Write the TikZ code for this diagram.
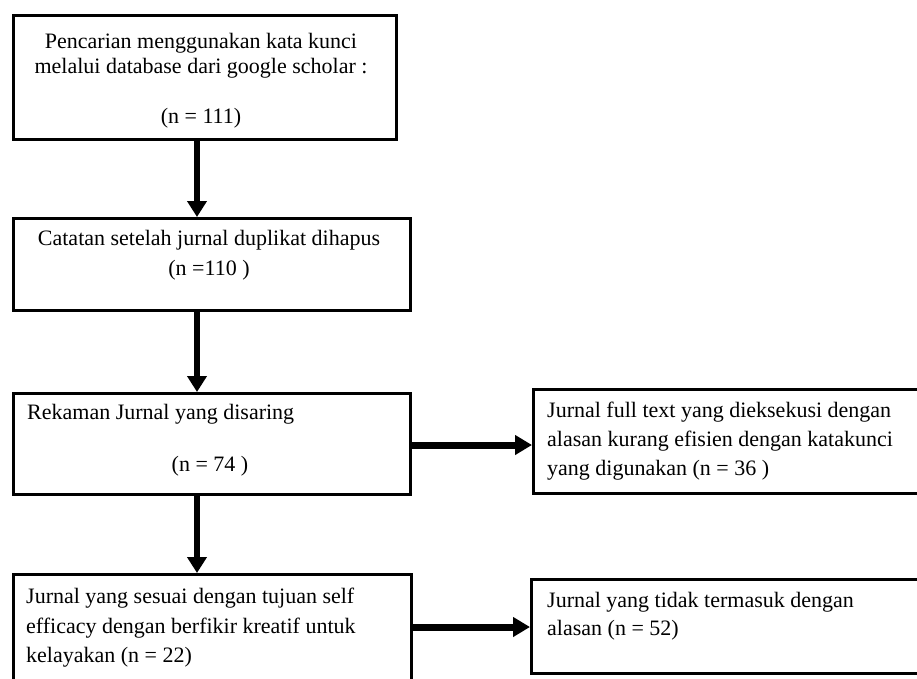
\documentclass[tikz,border=0pt]{standalone}
\usepackage{fontspec}
\setmainfont{Liberation Serif}
\usetikzlibrary{arrows.meta}
\begin{document}
\begin{tikzpicture}[x=1pt,y=-1pt,
  box/.style={draw=black, line width=2.6pt, inner sep=0pt, anchor=north west, fill=white},
  txt/.style={inner sep=0pt, font=\fontsize{22}{28}\selectfont},
  varrow/.style={line width=6pt, -{Triangle[length=16pt,width=19pt]}},
  harrow/.style={line width=7pt, -{Triangle[length=17pt,width=19pt]}}]
\useasboundingbox (0,0) rectangle (917,679);
% boxes
\node[box, minimum width=383pt, minimum height=124pt] (b1) at (12,14) {};
\node[box, minimum width=397pt, minimum height=92pt] (b2) at (12,217) {};
\node[box, minimum width=397pt, minimum height=101pt] (b3) at (12,392) {};
\node[box, minimum width=400pt, minimum height=104pt] (b4) at (532,388) {};
\node[box, minimum width=398pt, minimum height=130pt] (b5) at (12,573) {};
\node[box, minimum width=400pt, minimum height=94pt] (b6) at (530,578) {};
% helper coordinates
\coordinate (ax) at (197,0);
\coordinate (ay1) at (0,445);
\coordinate (ay2) at (0,627);
% connectors
\draw[varrow] (b1.south -| ax) -- (b2.north -| ax);
\draw[varrow] (b2.south -| ax) -- (b3.north -| ax);
\draw[varrow] (b3.south -| ax) -- (b5.north -| ax);
\draw[harrow] (b3.east |- ay1) -- (b4.west |- ay1);
\draw[harrow] (b5.east |- ay2) -- (b6.west |- ay2);
% texts
\node[txt, align=center, font=\fontsize{22}{25}\selectfont] (t1) at (201,80.5)
  {Pencarian menggunakan kata kunci\\melalui database dari google scholar :\\[25pt](n = 111)};
\node[txt, align=center, font=\fontsize{22}{30}\selectfont] (t2) at (209,255)
  {Catatan setelah jurnal duplikat dihapus\\(n =110 )};
\node[txt, anchor=west] (t3a) at (27,414) {Rekaman Jurnal yang disaring};
\node[txt] (t3b) at (210,466) {(n = 74 )};
\node[txt, anchor=west, align=left, font=\fontsize{22}{29}\selectfont] (t4) at (547,441)
  {Jurnal full text yang dieksekusi dengan\\alasan kurang efisien dengan katakunci\\yang digunakan (n = 36 )};
\node[txt, anchor=west, align=left, font=\fontsize{22}{29.5}\selectfont] (t5) at (26,628)
  {Jurnal yang sesuai dengan tujuan self\\efficacy dengan berfikir kreatif untuk\\kelayakan (n = 22)};
\node[txt, anchor=west, align=left] (t6) at (547,616)
  {Jurnal yang tidak termasuk dengan\\alasan (n = 52)};
\end{tikzpicture}
\end{document}
